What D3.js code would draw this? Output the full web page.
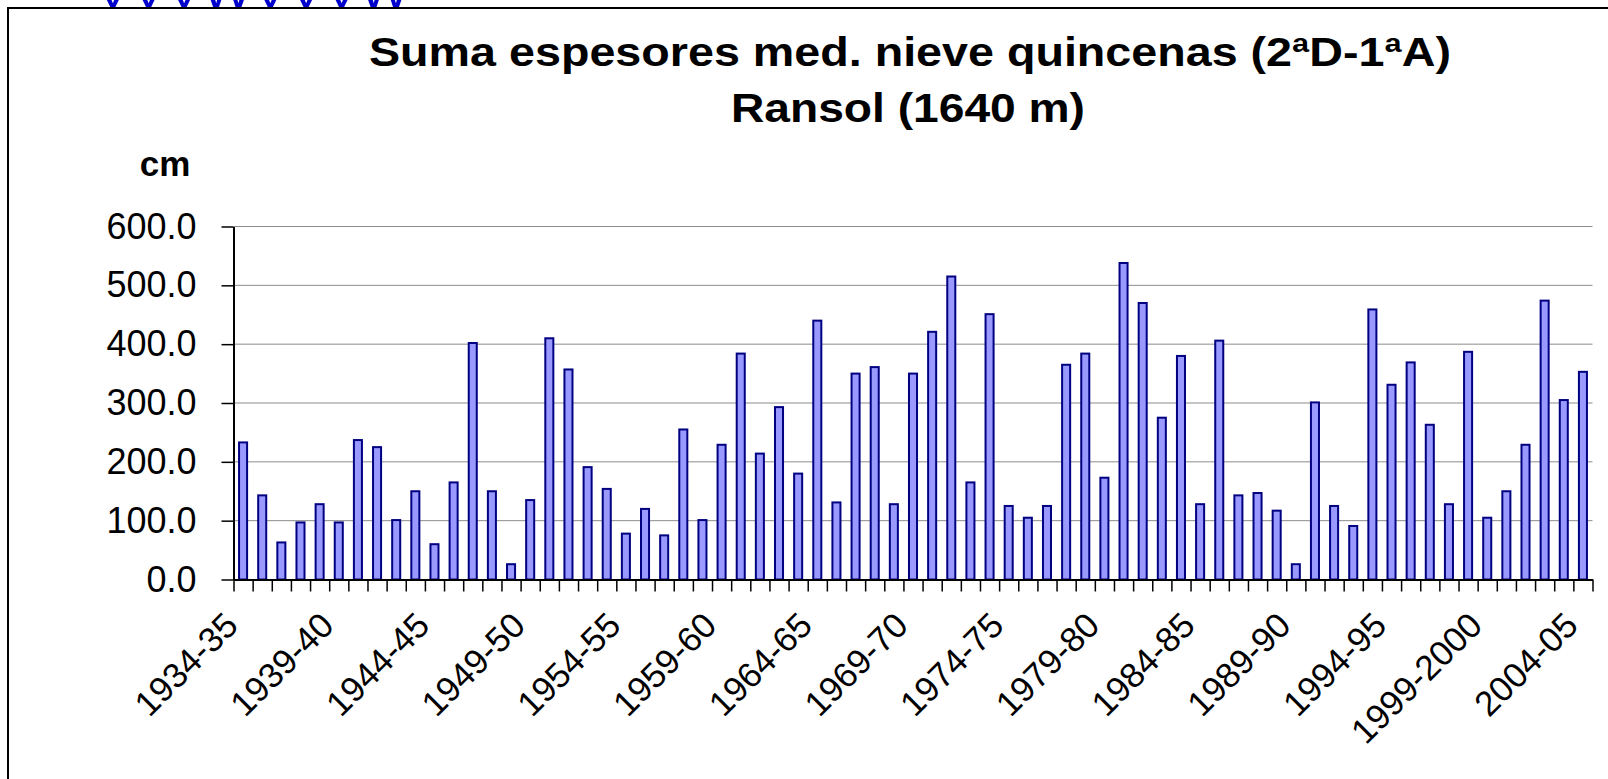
<!DOCTYPE html>
<html>
<head>
<meta charset="utf-8">
<script src="https://cdn.jsdelivr.net/npm/d3@7"></script>
<style>
  body { margin: 0; background: #fff; overflow: hidden; }
  text { font-family: 'Liberation Sans', Arial, sans-serif; }
</style>
</head>
<body>
<script>
// seasons 1934-35 .. 2004-05
const seasons = d3.range(1934, 2005).map((y) => {
    const next = y + 1
    return y + '-' + (next === 2000 ? '2000' : String(next).slice(2))
})

// sum of mean snow depth per fortnight, cm
const values = [
    233, 143, 63, 97, 128, 97, 237, 225, 101, 150, 60, 165, 402, 150, 26, 135, 410, 357, 191, 154, 78, 120, 75,
    255, 101, 229, 384, 214, 293, 180, 440, 131, 350, 361, 128, 350, 421, 515, 165, 451, 125, 105, 125, 365, 384, 173, 538,
    470, 275, 380, 128, 406, 143, 147, 117, 26, 301, 125, 91, 459, 331, 369, 263, 128, 387, 105, 150, 229, 474, 305, 353
]

const tickLabels = ['1934-35', '1939-40', '1944-45', '1949-50', '1954-55', '1959-60', '1964-65',
    '1969-70', '1974-75', '1979-80', '1984-85', '1989-90', '1994-95', '1999-2000', '2004-05']

const yTicks = [0, 100, 200, 300, 400, 500, 600]

const titleLines = ['Suma espesores med. nieve quincenas (2ªD-1ªA)', 'Ransol (1640 m)']

const W = 1608
const H = 779
const plotLeft = 233.5
const plotRight = 1592.5
const plotBottom = 579.5
const plotTop = 226.5

const svg = d3.select('body')
    .append('svg')
    .attr('width', W)
    .attr('height', H)

// heading of the page above the chart, only its foot is visible
svg.append('text')
    .attr('x', 95)
    .attr('y', 7)
    .attr('fill', '#0000cc')
    .attr('font-size', 44)
    .attr('textLength', 315)
    .attr('lengthAdjust', 'spacingAndGlyphs')
    .text('VVVWVVVW')

// chart frame (runs off the page right and bottom)
svg.append('rect')
    .attr('x', 8)
    .attr('y', 8)
    .attr('width', 1700)
    .attr('height', 900)
    .attr('fill', 'none')
    .attr('stroke', '#000')
    .attr('stroke-width', 2)

// title
svg.append('text')
    .attr('x', 369)
    .attr('y', 66)
    .attr('font-size', 40)
    .attr('font-weight', 'bold')
    .attr('textLength', 1082)
    .attr('lengthAdjust', 'spacingAndGlyphs')
    .text(titleLines[0])

svg.append('text')
    .attr('x', 731)
    .attr('y', 122)
    .attr('font-size', 40)
    .attr('font-weight', 'bold')
    .attr('textLength', 354)
    .attr('lengthAdjust', 'spacingAndGlyphs')
    .text(titleLines[1])

svg.append('text')
    .attr('x', 165)
    .attr('y', 176)
    .attr('text-anchor', 'middle')
    .attr('font-size', 35)
    .attr('font-weight', 'bold')
    .text('cm')

const x = d3.scaleBand()
    .domain(seasons)
    .range([plotLeft, plotRight])
    .paddingInner(0.58)
    .paddingOuter(0.29)

const y = d3.scaleLinear()
    .domain([0, 600])
    .range([plotBottom, plotTop])

// gridlines
svg.append('g')
    .selectAll('line')
    .data(yTicks.slice(1))
    .enter()
    .append('line')
    .attr('x1', plotLeft)
    .attr('x2', plotRight)
    .attr('y1', (d) => y(d))
    .attr('y2', (d) => y(d))
    .attr('stroke', '#8c8c8c')
    .attr('stroke-width', 1)

// bars
svg.append('g')
    .selectAll('rect')
    .data(values)
    .enter()
    .append('rect')
    .attr('x', (d, i) => x(seasons[i]))
    .attr('y', (d) => y(d))
    .attr('width', x.bandwidth())
    .attr('height', (d) => plotBottom - y(d))
    .attr('fill', '#9999ff')
    .attr('stroke', '#000080')
    .attr('stroke-width', 2)

// y axis
const yAxis = svg.append('g')
    .attr('transform', `translate(${plotLeft},0)`)
    .call(d3.axisLeft(y)
        .tickValues(yTicks)
        .tickSize(12)
        .tickSizeOuter(0)
        .tickPadding(25)
        .tickFormat(d3.format('.1f')))
yAxis.selectAll('text')
    .attr('font-size', 36)
    .attr('font-family', null)
    .attr('fill', '#000')
yAxis.select('.domain').attr('stroke-width', 2)
yAxis.selectAll('.tick line').attr('stroke-width', 1.5)

// x axis: tick marks on the category boundaries
const xEdge = d3.scaleLinear()
    .domain([0, seasons.length])
    .range([plotLeft, plotRight])

const xAxis = svg.append('g')
    .attr('transform', `translate(0,${plotBottom})`)
    .call(d3.axisBottom(xEdge)
        .tickValues(d3.range(seasons.length + 1))
        .tickSize(12)
        .tickSizeOuter(0)
        .tickFormat(''))
xAxis.select('.domain').attr('stroke-width', 2)
xAxis.selectAll('.tick line').attr('stroke-width', 1.5)

// rotated category labels, every fifth season
svg.append('g')
    .selectAll('text')
    .data(tickLabels)
    .enter()
    .append('text')
    .attr('transform', (d) => {
        const cx = x(d) + x.bandwidth() / 2
        return `translate(${cx - 3},${plotBottom + 48}) rotate(-45)`
    })
    .attr('text-anchor', 'end')
    .attr('font-size', 35)
    .text((d) => d)
</script>
</body>
</html>
